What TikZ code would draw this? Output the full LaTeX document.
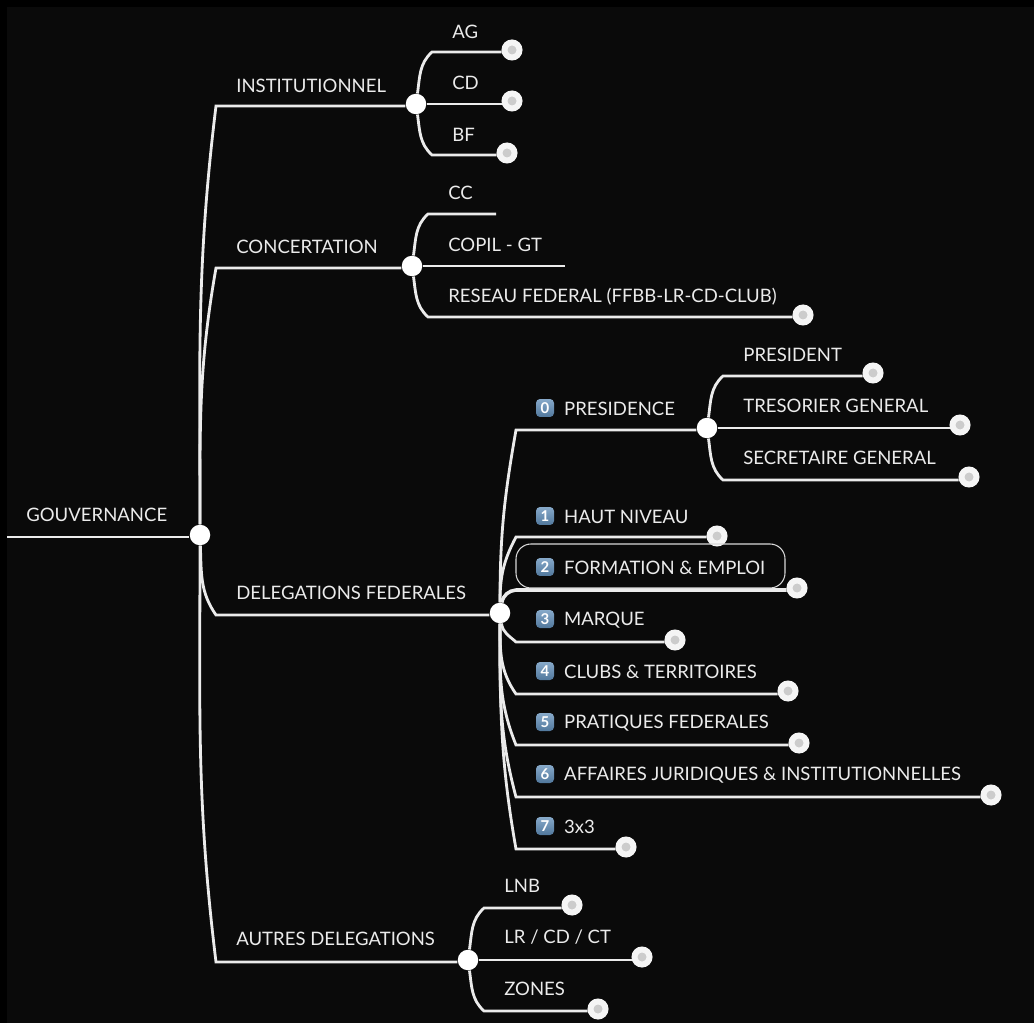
\documentclass[tikz,border=0pt]{standalone}
\usepackage{fontspec}
\setmainfont{Lato}
\usetikzlibrary{positioning}
\definecolor{panel}{HTML}{0A0A0A}
\definecolor{capblue}{HTML}{5F8DB8}
\tikzset {
    label text/.style={
        text=white!92!black,
        font=\fontsize{10.55}{12}\selectfont,
        inner sep=0pt,
        anchor=west,
        yshift=-.02cm,
    },
    hub/.style={
        circle,
        fill=white,
        inner sep=0pt,
        minimum size=.41cm,
    },
    leaf/.style={
        circle,
        fill=white!80!black,
        draw=white!96!black,
        line width=3.4pt,
        inner sep=0pt,
        minimum size=.3cm,
    },
    keycap/.style={
        rectangle,
        rounded corners=.08cm,
        top color=capblue!75!white,
        bottom color=capblue!85!black,
        text=white,
        font=\fontsize{8.5}{9}\selectfont\bfseries,
        inner sep=0pt,
        minimum size=.36cm,
    },
    link/.style={
        draw=white!92!black,
        line width=1.6pt,
    },
    up/.style={out=82,in=222},
    down/.style={out=-82,in=138},
}

\begin{document}
\begin{tikzpicture}
[x=.02cm, y=-.02cm]

\fill[black] (0,0) rectangle (1034,1023);
\fill[panel] (7,7) rectangle (1034,1023);
\useasboundingbox (0,0) rectangle (1034,1023);

% main hubs
\node[hub] at (200,535) (root) {};
\node[hub] at (416,104) (inst) {};
\node[hub] at (412,266) (conc) {};
\node[hub] at (500,613) (dele) {};
\node[hub] at (468,960) (autr) {};
\node[hub] at (707,428) (pres) {};

\coordinate (start) at (7,537);
\coordinate (kneeInst) at (216,106);
\coordinate (kneeConc) at (216,268);
\coordinate (kneeDele) at (216,615);
\coordinate (kneeAutr) at (216,962);

\node[label text] at (26,514) (gouv) {GOUVERNANCE};
\node[label text] at (236,85) (instT) {INSTITUTIONNEL};
\node[label text] at (236,246) (concT) {CONCERTATION};
\node[label text] at (236,592) (deleT) {DELEGATIONS FEDERALES};
\node[label text] at (236,938) (autrT) {AUTRES DELEGATIONS};

% institutionnel
\node[label text] at (452,31) (agT) {AG};
\node[label text] at (452,82) (cdT) {CD};
\node[label text] at (452,134) (bfT) {BF};
\node[leaf] at (512,50) (ag) {};
\node[leaf] at (512,101) (cd) {};
\node[leaf] at (507,153) (bf) {};
\coordinate (kneeAg) at (432,52);
\coordinate (kneeBf) at (432,155);

% concertation
\node[label text] at (448,192) (ccT) {CC};
\node[label text] at (448,244) (copilT) {COPIL - GT};
\node[label text] at (448,296) (reseauT) {RESEAU FEDERAL (FFBB-LR-CD-CLUB)};
\node[leaf] at (803,315) (reseau) {};
\coordinate (kneeCc) at (428,214);
\coordinate (endCc) at (496,214);
\coordinate (endCopil) at (565,266);
\coordinate (kneeReseau) at (428,317);

% presidence
\node[keycap] at (545,408) (cap0) {0};
\node[label text, right=.19cm of cap0] (presT) {PRESIDENCE};
\node[label text] at (743,354) (presidentT) {PRESIDENT};
\node[label text] at (743,405) (tresT) {TRESORIER GENERAL};
\node[label text] at (743,457) (secrT) {SECRETAIRE GENERAL};
\node[leaf] at (873,373) (president) {};
\node[leaf] at (960,425) (tres) {};
\node[leaf] at (969,477) (secr) {};
\coordinate (kneePres) at (516,430);
\coordinate (kneePresident) at (723,376);
\coordinate (kneeSecr) at (723,480);

% delegations
\node[keycap] at (545,516) (cap1) {1};
\node[keycap] at (545,567) (cap2) {2};
\node[keycap] at (545,619) (cap3) {3};
\node[keycap] at (545,671) (cap4) {4};
\node[keycap] at (545,722) (cap5) {5};
\node[keycap] at (545,774) (cap6) {6};
\node[keycap] at (545,826) (cap7) {7};
\node[label text, right=.19cm of cap1] (hautT) {HAUT NIVEAU};
\node[label text, right=.19cm of cap2] (formT) {FORMATION \& EMPLOI};
\node[label text, right=.19cm of cap3] (marqT) {MARQUE};
\node[label text, right=.19cm of cap4] (clubT) {CLUBS \& TERRITOIRES};
\node[label text, right=.19cm of cap5] (pratT) {PRATIQUES FEDERALES};
\node[label text, right=.19cm of cap6] (affaT) {AFFAIRES JURIDIQUES \& INSTITUTIONNELLES};
\node[label text, right=.19cm of cap7] (troisT) {3x3};
\node[leaf] at (717,536) (haut) {};
\node[leaf] at (797,588) (form) {};
\node[leaf] at (675,640) (marq) {};
\node[leaf] at (788,691) (club) {};
\node[leaf] at (799,743) (prat) {};
\node[leaf] at (991,795) (affa) {};
\node[leaf] at (626,847) (trois) {};
\coordinate (kneeHaut) at (516,537);
\coordinate (kneeForm) at (516,590);
\coordinate (kneeMarq) at (516,642);
\coordinate (kneeClub) at (516,694);
\coordinate (kneePrat) at (516,745);
\coordinate (kneeAffa) at (516,797);
\coordinate (kneeTrois) at (516,849);
\coordinate (boxA) at (516,544);
\coordinate (boxB) at (785,588);

% autres delegations
\node[label text] at (504,885) (lnbT) {LNB};
\node[label text] at (504,936) (lrT) {LR / CD / CT};
\node[label text] at (504,988) (zonT) {ZONES};
\node[leaf] at (572,905) (lnb) {};
\node[leaf] at (642,957) (lr) {};
\node[leaf] at (598,1009) (zon) {};
\coordinate (kneeLnb) at (484,908);
\coordinate (kneeZon) at (484,1011);

\draw[link] (start) -- (start -| root.west);
\draw[link] (root) to[out=90,in=-97] (kneeInst) -- (kneeInst -| inst.west);
\draw[link] (root) to[out=90,in=-100] (kneeConc) -- (kneeConc -| conc.west);
\draw[link] (root) to[out=-88,in=125] (kneeDele) -- (kneeDele -| dele.west);
\draw[link] (root) to[out=-90,in=97] (kneeAutr) -- (kneeAutr -| autr.west);

\draw[link] (inst) to[up] (kneeAg) -- (kneeAg -| ag.west);
\draw[link] (inst) -- (inst -| cd.west);
\draw[link] (inst) to[down] (kneeBf) -- (kneeBf -| bf.west);

\draw[link] (conc) to[up] (kneeCc) -- (endCc);
\draw[link] (conc) -- (endCopil);
\draw[link] (conc) to[down] (kneeReseau) -- (kneeReseau -| reseau.west);

\draw[link] (dele) to[out=90,in=-100] (kneePres) -- (kneePres -| pres.west);
\draw[link] (pres) to[up] (kneePresident) -- (kneePresident -| president.west);
\draw[link] (pres) -- (pres -| tres.west);
\draw[link] (pres) to[down] (kneeSecr) -- (kneeSecr -| secr.west);

\draw[link] (dele) to[out=90,in=-118] (kneeHaut) -- (kneeHaut -| haut.west);
\draw[link, line width=2pt] (dele) to[out=80,in=185] (kneeForm) -- (kneeForm -| form.west);
\draw[link] (dele) to[down] (kneeMarq) -- (kneeMarq -| marq.west);
\draw[link] (dele) to[out=-90,in=125] (kneeClub) -- (kneeClub -| club.west);
\draw[link] (dele) to[out=-90,in=112] (kneePrat) -- (kneePrat -| prat.west);
\draw[link] (dele) to[out=-90,in=105] (kneeAffa) -- (kneeAffa -| affa.west);
\draw[link] (dele) to[out=-90,in=100] (kneeTrois) -- (kneeTrois -| trois.west);

\draw[white!85!black, line width=.6pt, rounded corners=.3cm] (boxA) rectangle (boxB);

\draw[link] (autr) to[up] (kneeLnb) -- (kneeLnb -| lnb.west);
\draw[link] (autr) -- (autr -| lr.west);
\draw[link] (autr) to[down] (kneeZon) -- (kneeZon -| zon.west);
\end{tikzpicture}
\end{document}
